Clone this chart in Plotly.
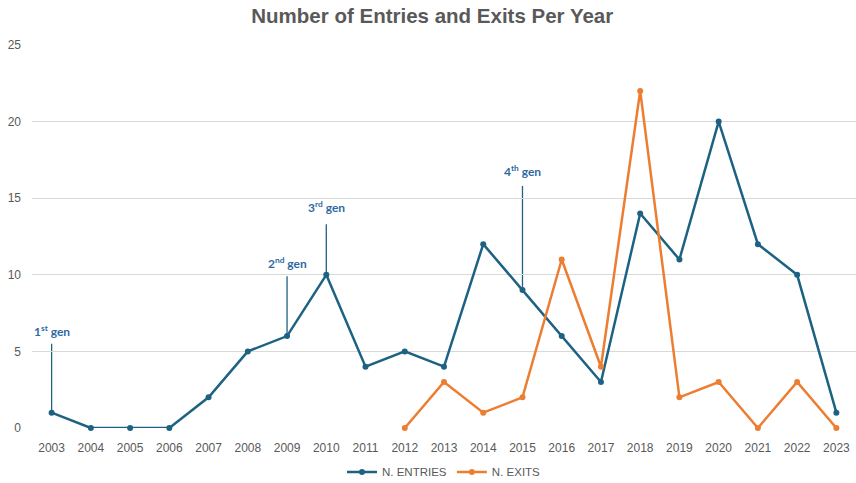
import plotly.graph_objects as go

# Yearly counts
years = list(range(2003, 2024))
entries = [1, 0, 0, 0, 2, 5, 6, 10, 4, 5, 4, 12, 9, 6, 3, 14, 11, 20, 12, 10, 1]
exit_years = list(range(2012, 2024))
exits = [0, 3, 1, 2, 11, 4, 22, 2, 3, 0, 3, 0]

# Generation markers: year, label, top of the leader line, label position
gen_years = [2003, 2009, 2010, 2015]
gen_labels = ["1<sup>st</sup> gen", "2<sup>nd</sup> gen", "3<sup>rd</sup> gen", "4<sup>th</sup> gen"]
gen_line_top = [5.5, 9.9, 13.3, 15.8]
gen_label_y = [6.3, 10.8, 14.4, 16.8]

BLUE = "#1d6283"
ORANGE = "#ed7d31"
LABEL_BLUE = "#2e6aa2"
GREY = "#595959"

fig = go.Figure()

fig.add_trace(go.Scatter(
    x=years, y=entries, name="N. ENTRIES", mode="lines+markers",
    line=dict(color=BLUE, width=2.5), marker=dict(color=BLUE, size=6),
    cliponaxis=False,
))
fig.add_trace(go.Scatter(
    x=exit_years, y=exits, name="N. EXITS", mode="lines+markers",
    line=dict(color=ORANGE, width=2.5), marker=dict(color=ORANGE, size=6),
    cliponaxis=False,
))

# Leader lines and labels for each generation
for yr, lab, top, ty in zip(gen_years, gen_labels, gen_line_top, gen_label_y):
    val = entries[years.index(yr)]
    fig.add_shape(type="line", xref="x", yref="y", x0=yr, x1=yr, y0=val, y1=top,
                  line=dict(color=BLUE, width=1.3), layer="below")
    fig.add_annotation(x=yr, y=ty, text=f"<b>{lab}</b>", showarrow=False,
                       font=dict(family="Lato, Open Sans, sans-serif", size=12, color=LABEL_BLUE),
                       yanchor="middle")

fig.update_layout(
    width=856, height=483,
    margin=dict(l=32, r=0, t=45, b=55, autoexpand=False),
    paper_bgcolor="white", plot_bgcolor="white",
    title=dict(text="<b>Number of Entries and Exits Per Year</b>", x=0.505, xanchor="center",
               y=0.967, yanchor="middle",
               font=dict(family="Liberation Sans, Arial, sans-serif", size=20.5, color=GREY)),
    font=dict(family="Liberation Sans, Arial, sans-serif", color=GREY),
    showlegend=True,
    legend=dict(orientation="h", x=0.5, xanchor="center", yref="container", y=0.023,
                yanchor="middle", font=dict(size=11.5, color=GREY), itemwidth=30,
                tracegroupgap=0),
)

fig.update_xaxes(
    range=[2002.5, 2023.5], tickmode="array", tickvals=years, ticktext=[str(y) for y in years],
    showgrid=False, zeroline=False, showline=False, ticks="",
    tickfont=dict(size=12, color=GREY), ticklabelstandoff=11,
)
fig.update_yaxes(
    range=[0, 25], tickvals=[0, 5, 10, 15, 20, 25], showgrid=True, gridcolor="#d9d9d9",
    gridwidth=1, zeroline=False, showline=False, ticks="",
    tickfont=dict(size=12, color=GREY), ticklabelstandoff=10,
)

fig.write_html("out.html")
